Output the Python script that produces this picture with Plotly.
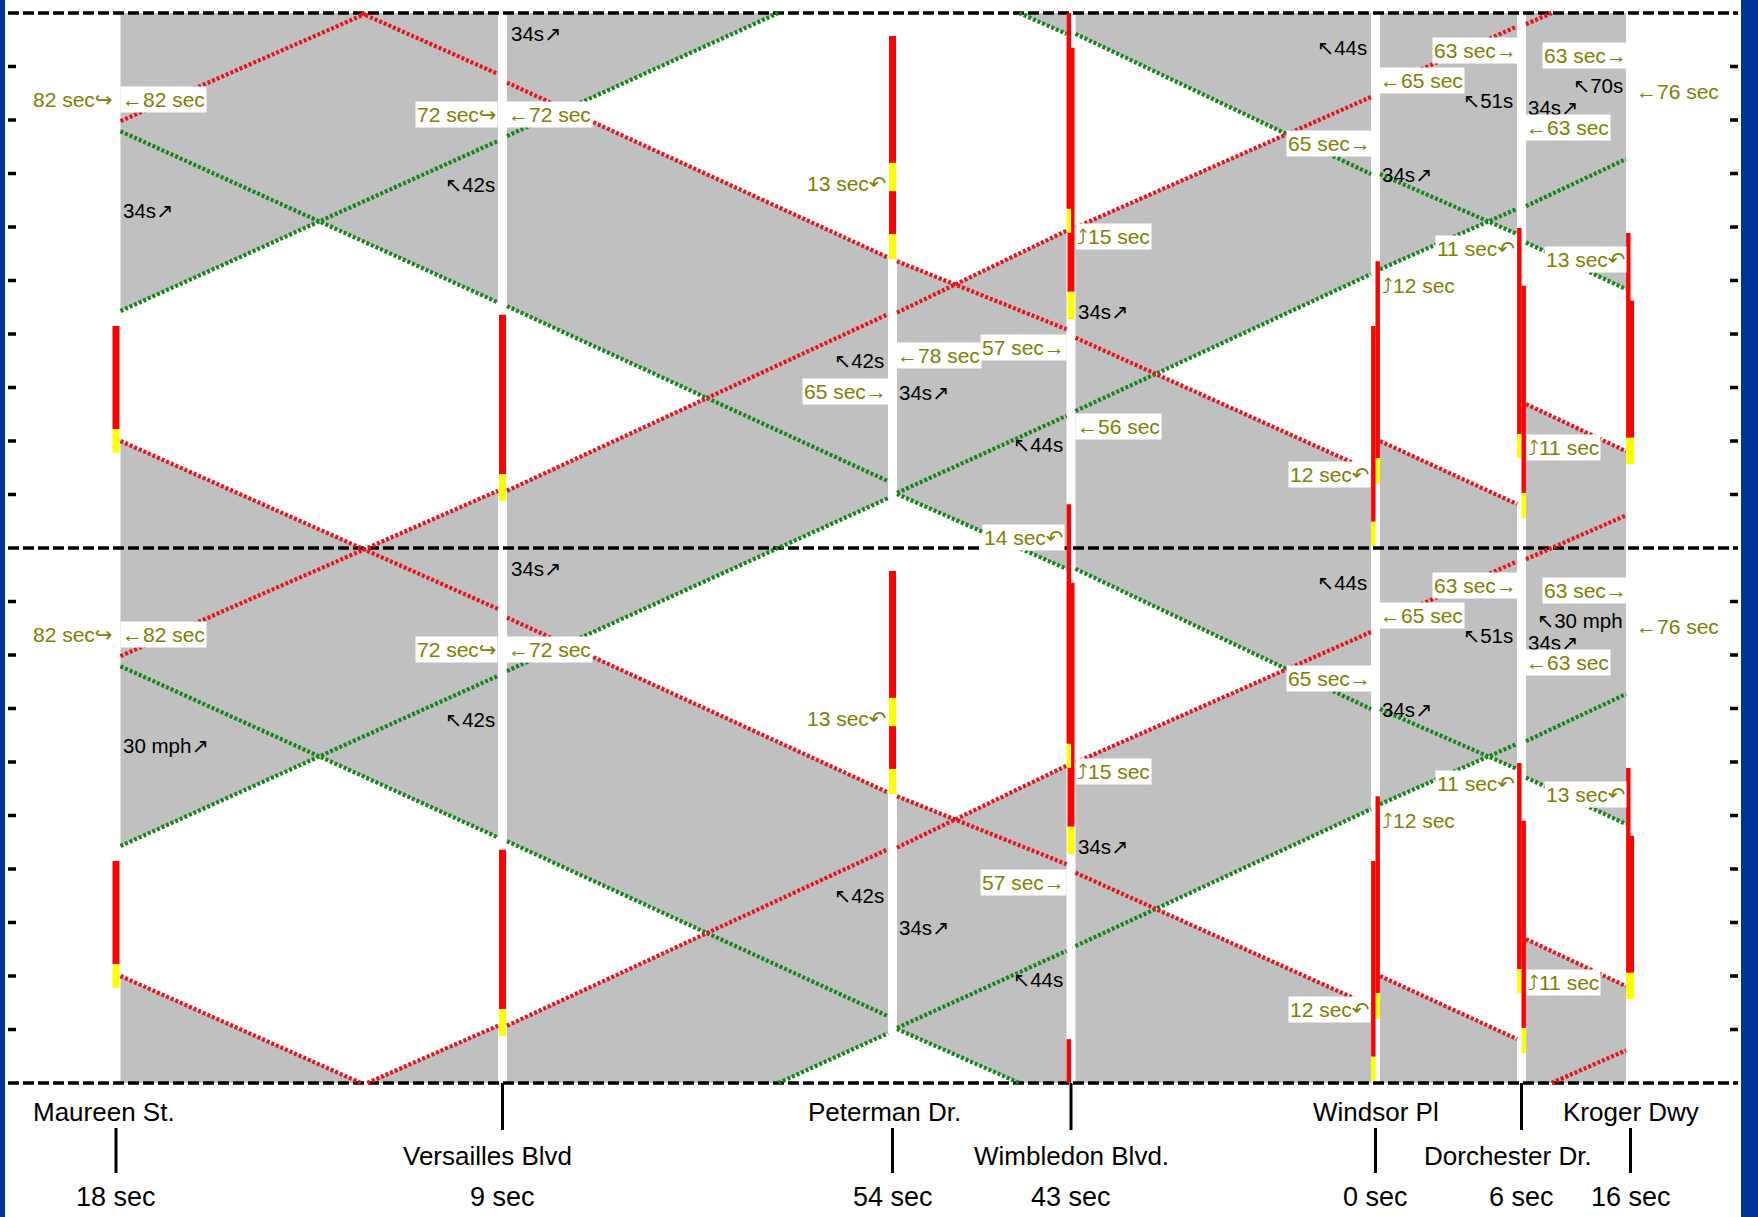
import numpy as np
import plotly.graph_objects as go

# ------------------------------------------------------------------ data
CYCLE = 100.0  # seconds per signal cycle (two cycles are shown)

streets = ["Maureen St.", "Versailles Blvd", "Peterman Dr.", "Wimbledon Blvd.",
           "Windsor Pl", "Dorchester Dr.", "Kroger Dwy"]
street_dist = [116.0, 502.5, 892.5, 1071.0, 1375.5, 1521.5, 1630.5]   # distance along arterial
street_offset = ["18 sec", "9 sec", "54 sec", "43 sec", "0 sec", "6 sec", "16 sec"]

# progression bands on each link (time in s at the left / right end of the link)
eb_green_left = [44.3, 77.0, 110.3, 25.6, 52.1, 63.9]
eb_green_right = [76.1, 109.3, 124.7, 51.2, 63.4, 72.7]
eb_red_left = [79.8, 110.7, 144.0, 59.9, 86.0, 97.9]
eb_red_right = [110.7, 143.7, 159.3, 84.3, 97.5, 106.1]
wb_green_left = [77.9, 45.2, 10.1, 96.1, 69.9, 57.1]
wb_green_right = [45.9, 12.5, -3.9, 69.9, 58.7, 48.4]
wb_red_left = [120.0, 87.0, 53.6, 139.3, 120.0, 126.9]
wb_red_right = [88.6, 54.3, 40.9, 114.4, 108.2, 118.1]

# signal indications (red / yellow intervals, s within a cycle)
sig_street = [0, 0, 1, 1, 2, 2, 2, 3, 3, 3, 3, 4, 4, 4, 4, 5, 5, 5, 5, 6, 6, 6, 6]
sig_lane = ["full", "full", "full", "full", "full", "full", "full",
            "full", "full", "left", "left",
            "right", "right", "left", "left",
            "left", "left", "right", "right",
            "full", "full", "left", "left"]
sig_color = ["red", "yellow", "red", "yellow", "red", "yellow", "yellow",
             "red", "yellow", "red", "yellow",
             "red", "yellow", "red", "yellow",
             "red", "yellow", "red", "yellow",
             "red", "yellow", "red", "yellow"]
sig_from = [41.5, 22.2, 43.6, 13.8, 95.7, 58.7, 72.0,
            93.5, 47.9, 108.2, 63.4,
            53.6, 16.8, 41.5, 4.9,
            59.8, 21.3, 49.0, 10.3,
            46.2, 20.6, 58.9, 20.6]
sig_to = [22.2, 17.8, 13.8, 8.8, 58.7, 54.0, 66.7,
          47.9, 42.8, 63.4, 58.9,
          16.8, 12.0, 4.9, 0.4,
          21.3, 16.8, 10.3, 5.6,
          20.6, 15.7, 20.6, 15.7]

# diagram notes: text in upper cycle, text in lower cycle (None = absent)
lbl_upper = ["82 sec↪", "←82 sec", "72 sec↪", "←72 sec", "34s↗", "↖42s", "34s↗",
             "13 sec↶", "⤴15 sec", "34s↗", "↖42s", "←78 sec", "65 sec→", "34s↗",
             "57 sec→", "←56 sec", "↖44s", "14 sec↶", "↖44s", "63 sec→", "←65 sec",
             "↖51s", "34s↗", "63 sec→", "↖70s", "←76 sec", "←63 sec", "65 sec→",
             "34s↗", "11 sec↶", "13 sec↶", "⤴12 sec", "12 sec↶", "⤴11 sec"]
lbl_lower = ["82 sec↪", "←82 sec", "72 sec↪", "←72 sec", "34s↗", "↖42s", "30 mph↗",
             "13 sec↶", "⤴15 sec", "34s↗", "↖42s", None, None, "34s↗",
             "57 sec→", None, "↖44s", None, "↖44s", "63 sec→", "←65 sec",
             "↖51s", "34s↗", "63 sec→", "↖30 mph", "←76 sec", "←63 sec", "65 sec→",
             "34s↗", "11 sec↶", "13 sec↶", "⤴12 sec", "12 sec↶", "⤴11 sec"]
lbl_dist = [114, 120, 498, 506, 509, 497, 121,
            888, 1075, 1076, 886, 895, 889, 897,
            1067, 1075, 1065, 1065, 1369, 1519, 1378,
            1515, 1526, 1629, 1625, 1634, 1524, 1373,
            1380, 1517, 1627, 1380, 1371, 1526]
lbl_time = [83.9, 83.9, 81.1, 81.1, 96.1, 68.0, 63.0,
            68.2, 58.3, 44.2, 35.0, 35.9, 29.3, 29.0,
            37.4, 22.8, 19.4, 1.9, 93.5, 93.0, 87.4,
            83.6, 82.4, 92.0, 86.4, 85.4, 78.6, 75.6,
            69.9, 55.9, 54.0, 49.0, 13.8, 18.7]
lbl_side = ["right", "left", "right", "left", "left", "right", "left",
            "right", "left", "left", "right", "left", "right", "left",
            "right", "left", "right", "right", "right", "right", "left",
            "right", "left", "right", "right", "left", "left", "right",
            "left", "right", "right", "left", "right", "left"]
lbl_kind = ["olive", "olive", "olive", "olive", "black", "black", "black",
            "olive", "olive", "black", "black", "olive", "olive", "black",
            "olive", "olive", "black", "olive", "black", "olive", "olive",
            "black", "black", "olive", "black", "olive", "olive", "olive",
            "black", "olive", "olive", "olive", "olive", "olive"]

# ------------------------------------------------------------------ layout constants
W, H = 1758, 1217
PX_PER_S = 5.35
BASE_PX = 1083.0                   # pixel row of t = 0 (lower dashed line)
T_MAX = 2 * CYCLE
Y_RANGE = [(BASE_PX - H) / PX_PER_S, BASE_PX / PX_PER_S]
GAP = 4.5
FONT = "Liberation Sans, Arial, DejaVu Sans, sans-serif"
OLIVE = "#808000"
GRAY = "#c0c0c0"
RED_DOT = "#e8141c"
GREEN_DOT = "#16861a"
BLUE = "#003399"
SIGNAL_COL = {"red": "#ff0000", "yellow": "#ffff00"}
LANE = {"full": (0.0, 7.0), "left": (-2.2, 4.4), "right": (2.2, 4.4)}
NAME_SHIFT = [-12, -15, -8, 0, 0, -14, 0]
NAME_ROW = [1, 2, 1, 2, 1, 2, 1]


def px_to_t(py):
    return (BASE_PX - py) / PX_PER_S


def clip_seg(x0, y0, x1, y1, lo=0.0, hi=T_MAX):
    if y1 == y0:
        return (x0, y0, x1, y1) if lo <= y0 <= hi else None
    a = (lo - y0) / (y1 - y0)
    b = (hi - y0) / (y1 - y0)
    t0 = max(0.0, min(a, b))
    t1 = min(1.0, max(a, b))
    if t1 <= t0:
        return None
    return (x0 + t0 * (x1 - x0), y0 + t0 * (y1 - y0),
            x0 + t1 * (x1 - x0), y0 + t1 * (y1 - y0))


def clip_poly(pts, lo=0.0, hi=T_MAX):
    for bound, keep_above in ((lo, True), (hi, False)):
        out = []
        n = len(pts)
        for i in range(n):
            p, q = pts[i], pts[(i + 1) % n]
            pin = p[1] >= bound if keep_above else p[1] <= bound
            qin = q[1] >= bound if keep_above else q[1] <= bound
            if pin:
                out.append(p)
            if pin != qin:
                f = (bound - p[1]) / (q[1] - p[1])
                out.append((p[0] + f * (q[0] - p[0]), bound))
        pts = out
        if not pts:
            return []
    return pts


fig = go.Figure()

# ------------------------------------------------------------------ bands (gray) + edges
gx, gy = [], []
edge = {"green": ([], []), "red": ([], [])}
for i in range(len(street_dist) - 1):
    xl = street_dist[i] + GAP
    xr = street_dist[i + 1] - GAP
    bands = [(eb_green_left[i], eb_green_right[i], eb_red_left[i], eb_red_right[i]),
             (wb_green_left[i], wb_green_right[i], wb_red_left[i], wb_red_right[i])]
    for gl, gr, rl, rr in bands:
        for k in range(-2, 4):
            off = k * CYCLE
            poly = clip_poly([(xl, gl + off), (xr, gr + off), (xr, rr + off), (xl, rl + off)])
            if len(poly) >= 3:
                gx += [p[0] for p in poly] + [poly[0][0], None]
                gy += [p[1] for p in poly] + [poly[0][1], None]
            for col, a, b in (("green", gl, gr), ("red", rl, rr)):
                s = clip_seg(xl, a + off, xr, b + off)
                if s:
                    edge[col][0].extend([s[0], s[2], None])
                    edge[col][1].extend([s[1], s[3], None])

fig.add_trace(go.Scatter(x=gx, y=gy, mode="lines", fill="toself", fillcolor=GRAY,
                         line=dict(width=0, color=GRAY), hoverinfo="skip"))

# dashed cycle boundaries
for c in range(3):
    fig.add_trace(go.Scatter(x=[8, 1738], y=[c * CYCLE, c * CYCLE], mode="lines",
                             line=dict(color="black", width=3.5, dash="11px,4px"),
                             hoverinfo="skip"))

# band edges (dotted)
for col, colr in (("green", GREEN_DOT), ("red", RED_DOT)):
    fig.add_trace(go.Scatter(x=edge[col][0], y=edge[col][1], mode="lines",
                             line=dict(color=colr, width=4.2, dash="3px,2px"),
                             hoverinfo="skip"))

# side tick marks
tx, ty = [], []
for t in np.arange(10, T_MAX, 10):
    if abs(t % CYCLE) < 1e-6:
        continue
    for xa, xb in ((8, 16), (1730, 1738)):
        tx += [xa, xb, None]
        ty += [t, t, None]
fig.add_trace(go.Scatter(x=tx, y=ty, mode="lines", line=dict(color="black", width=3.5),
                         hoverinfo="skip"))

# signal indications
for j in range(len(sig_street)):
    dx, w = LANE[sig_lane[j]]
    x = street_dist[sig_street[j]] + dx
    xs, ys = [], []
    for k in range(-2, 4):
        s = clip_seg(x, sig_from[j] + k * CYCLE, x, sig_to[j] + k * CYCLE)
        if s:
            xs += [s[0], s[2], None]
            ys += [s[1], s[3], None]
    fig.add_trace(go.Scatter(x=xs, y=ys, mode="lines",
                             line=dict(color=SIGNAL_COL[sig_color[j]], width=w),
                             hoverinfo="skip"))

# street name leader lines
lx, ly = [], []
for i, xd in enumerate(street_dist):
    if NAME_ROW[i] == 1:
        y0, y1 = px_to_t(1128), px_to_t(1173)
    else:
        y0, y1 = px_to_t(1083), px_to_t(1130)
    lx += [xd, xd, None]
    ly += [y0, y1, None]
fig.add_trace(go.Scatter(x=lx, y=ly, mode="lines", line=dict(color="black", width=3),
                         hoverinfo="skip"))

annotations = []
for i, name in enumerate(streets):
    row_y = px_to_t(1112) if NAME_ROW[i] == 1 else px_to_t(1156)
    annotations.append(dict(x=street_dist[i] + NAME_SHIFT[i], y=row_y, text=name,
                            showarrow=False, xanchor="center", yanchor="middle",
                            font=dict(family=FONT, size=26, color="black")))
    annotations.append(dict(x=street_dist[i], y=px_to_t(1197), text=street_offset[i],
                            showarrow=False, xanchor="center", yanchor="middle",
                            font=dict(family=FONT, size=27, color="black")))

for i in range(len(lbl_upper)):
    olive = lbl_kind[i] == "olive"
    for cyc, txt in ((1, lbl_upper[i]), (0, lbl_lower[i])):
        if txt is None:
            continue
        annotations.append(dict(
            x=lbl_dist[i], y=lbl_time[i] + cyc * CYCLE, text=txt, showarrow=False,
            xanchor=lbl_side[i], yanchor="middle",
            font=dict(family=FONT, size=21 if olive else 20.5,
                      color=OLIVE if olive else "black"),
            bgcolor="white" if olive else "rgba(0,0,0,0)", borderpad=1))

shapes = [
    dict(type="rect", xref="x", yref="paper", x0=0, x1=5, y0=0, y1=1,
         fillcolor=BLUE, line=dict(width=0), layer="above"),
    dict(type="rect", xref="x", yref="paper", x0=1741, x1=W, y0=0, y1=1,
         fillcolor=BLUE, line=dict(width=0), layer="above"),
]

fig.update_layout(
    width=W, height=H, margin=dict(l=0, r=0, t=0, b=0),
    paper_bgcolor="white", plot_bgcolor="white", showlegend=False,
    xaxis=dict(range=[0, W], visible=False, fixedrange=True),
    yaxis=dict(range=Y_RANGE, visible=False, fixedrange=True),
    annotations=annotations, shapes=shapes,
)

fig.write_html("out.html", config={"displayModeBar": False, "staticPlot": True},
               post_script="document.body.style.margin='0';document.body.style.overflow='hidden';")
